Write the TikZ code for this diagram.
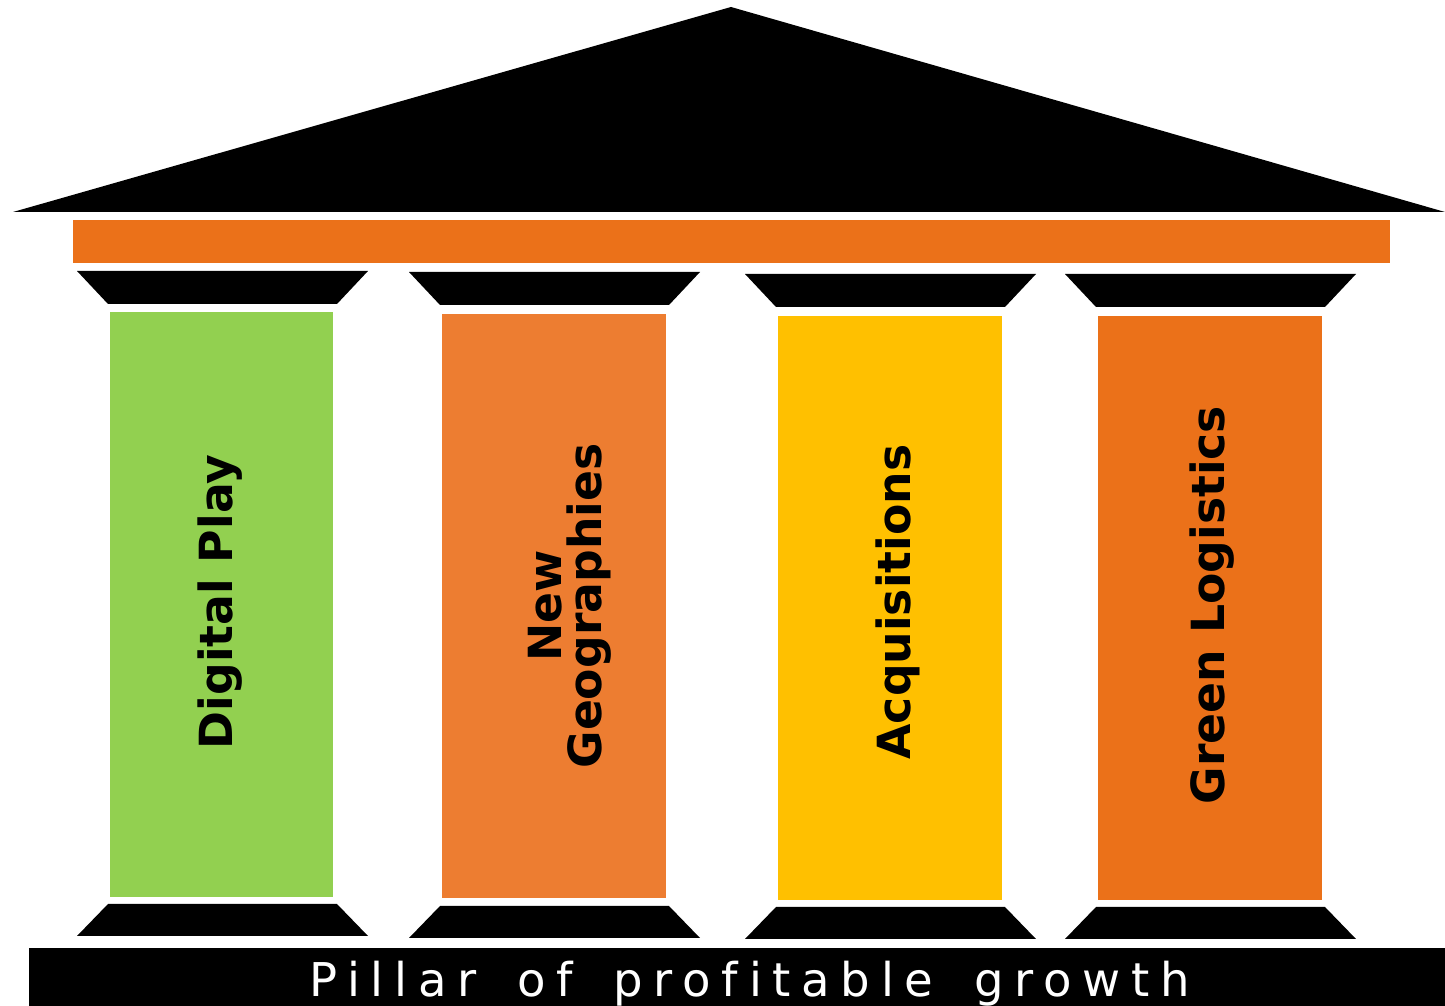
\documentclass[tikz,border=0pt]{standalone}
\usepackage{fontspec}
\setmainfont{DejaVu Sans}
\newfontfamily\basefont[LetterSpace=23, WordSpace=1.6, Ligatures=NoCommon]{DejaVu Sans}

\definecolor{beamorange}{RGB}{235,113,25}
\definecolor{softorange}{RGB}{237,125,49}
\definecolor{leafgreen}{RGB}{146,208,80}
\definecolor{goldyellow}{RGB}{255,192,0}

\tikzstyle{shaft}=[draw=none, rectangle, inner sep=0pt, minimum width=4.48cm, minimum height=11.7cm]
\tikzstyle{pillartext}=[rotate=90, align=center, inner sep=0pt, font=\fontsize{26}{23}\selectfont\bfseries]

\begin{document}
\begin{tikzpicture}[x=0.02cm, y=-0.02cm]
\useasboundingbox (0,0) rectangle (1445,1006);

% roof and beam
\fill (13,212) -- (731,7) -- (1445,212) -- cycle;
\fill[beamorange] (73,220) rectangle (1390,263);

% capitals and bases
\foreach \l/\t/\b in {77/271/904, 409/272/906, 745/274/907, 1065/274/907}{
  \fill (\l,\t) -- ++(291,0) -- ++(-31,33) -- ++(-229,0) -- cycle;
  \fill (\l+31,\b) -- ++(229,0) -- ++(31,32) -- ++(-291,0) -- cycle;
}

% shafts
\node[shaft, fill=leafgreen]  (play) at (221.5,604.5) {};
\node[shaft, fill=softorange] (geo)  at (554,606) {};
\node[shaft, fill=goldyellow] (acq)  at (890,608) {};
\node[shaft, fill=beamorange] (green) at (1210,608) {};

\node[pillartext] (playtext)  at (220,602) {Digital Play};
\node[pillartext] (geotext)   at (570,606) {New\\Geographies};
\node[pillartext] (acqtext)   at (898,602) {Acquisitions};
\node[pillartext] (greentext) at (1212,605) {Green Logistics};

% base bar
\fill (29,948) rectangle (1445,1006);
\node[anchor=base west, inner sep=0pt, text=white, font=\fontsize{26.5}{30}\basefont] (motto) at (309,996) {Pillar of profitable growth};

\end{tikzpicture}
\end{document}
